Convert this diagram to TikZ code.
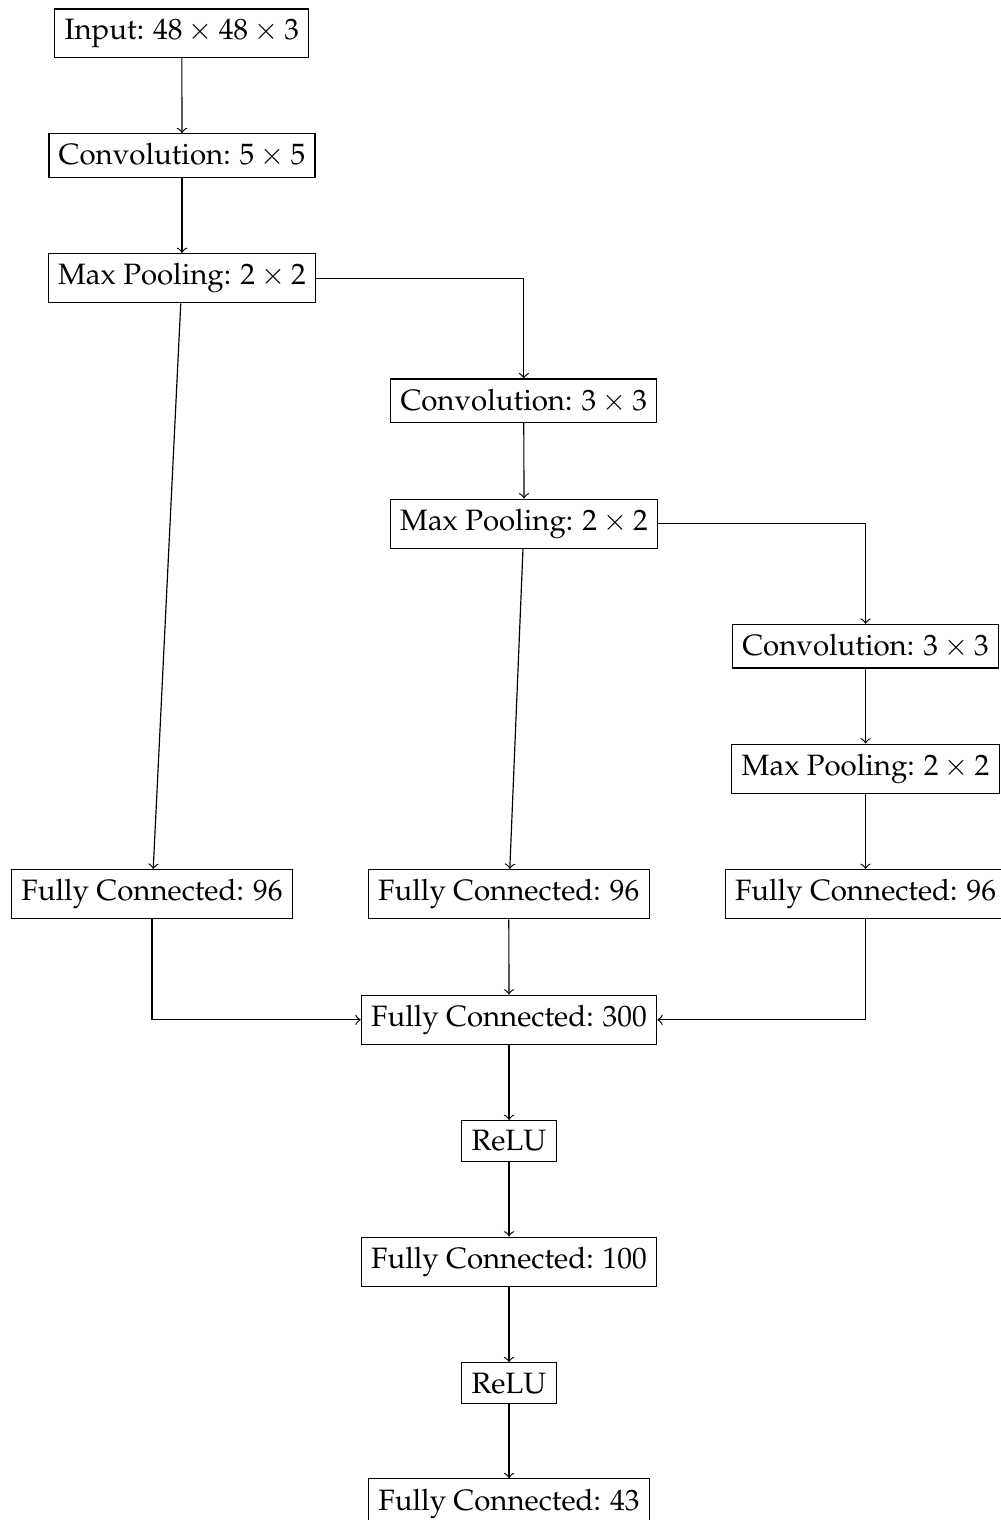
\documentclass[tikz,border=0pt]{standalone}
\usepackage[T1]{fontenc}
\usepackage{amsmath}
\usepackage{mathpazo}
\usepackage{tikz}
\usetikzlibrary{positioning, arrows}

\begin{document}
\begin{tikzpicture}[auto]
        \tikzset{layer/.style={draw,rectangle}}
        \useasboundingbox (0,0) rectangle (11.935,-18.141);

        \node[layer] (input) at (2.170,-0.397) {Input: $48 \times 48 \times 3$};
        \node[layer] (conv1) at (2.172,-1.856) {Convolution: $5 \times 5$};
        \node[layer] (pool1) at (2.172,-3.321) {Max Pooling: $2 \times 2$};

        \node[layer] (conv2) at (6.251,-4.783) {Convolution: $3 \times 3$};
        \node[layer] (pool2) at (6.254,-6.251) {Max Pooling: $2 \times 2$};

        \node[layer] (conv3) at (10.330,-7.712) {Convolution: $3 \times 3$};
        \node[layer] (pool3) at (10.330,-9.175) {Max Pooling: $2 \times 2$};

        \node[layer] (fc1) at (1.814,-10.672) {Fully Connected: 96};
        \node[layer] (fc2) at (6.072,-10.672) {Fully Connected: 96};
        \node[layer] (fc3) at (10.330,-10.672) {Fully Connected: 96};

        \node[layer] (fc300) at (6.075,-12.171) {Fully Connected: 300};
        \node[layer] (relu1) at (6.075,-13.617) {ReLU};
        \node[layer] (fc100) at (6.075,-15.059) {Fully Connected: 100};
        \node[layer] (relu2) at (6.075,-16.508) {ReLU};
        \node[layer] (fc43) at (6.075,-17.944) {Fully Connected: 43};

        \draw[->] (input) -- (conv1);
        \draw[->] (conv1) -- (pool1);
        \draw[->] (pool1) -- (fc1);
        \draw[->] (pool1) -| (conv2);

        \draw[->] (conv2) -- (pool2);
        \draw[->] (pool2) -- (fc2);
        \draw[->] (pool2) -| (conv3);

        \draw[->] (conv3) -- (pool3);
        \draw[->] (pool3) -- (fc3);

        \draw[->] (fc1) |- (fc300);
        \draw[->] (fc2) -- (fc300);
        \draw[->] (fc3) |- (fc300);

        \draw[->] (fc300) -- (relu1);
        \draw[->] (relu1) -- (fc100);
        \draw[->] (fc100) -- (relu2);
        \draw[->] (relu2) -- (fc43);
    \end{tikzpicture}
\end{document}
